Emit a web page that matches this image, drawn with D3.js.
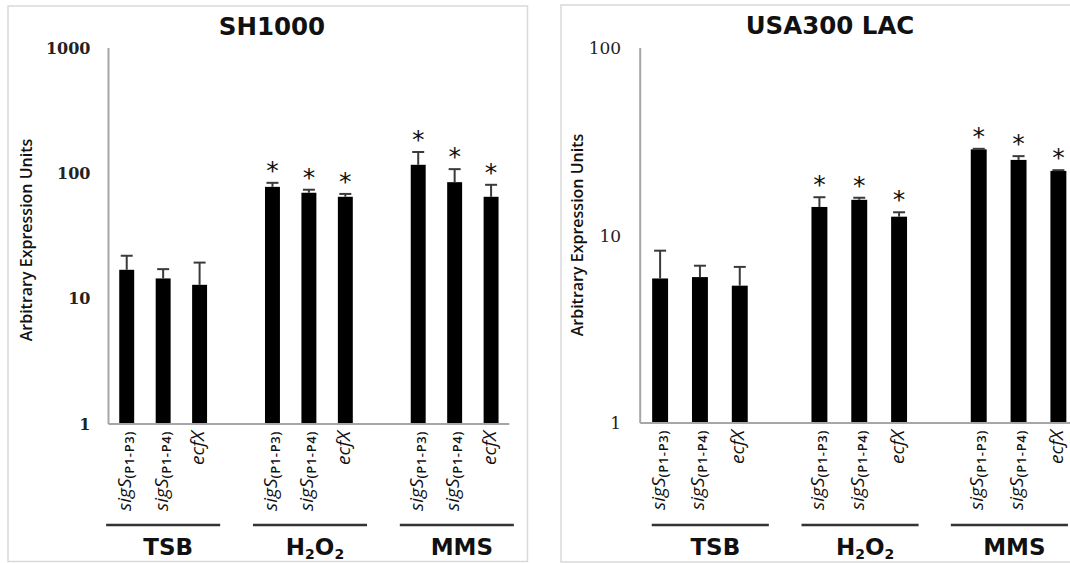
<!DOCTYPE html>
<html>
<head>
<meta charset="utf-8">
<script src="https://cdn.jsdelivr.net/npm/d3@7"></script>
<style>
  body { margin: 0; background: #fff; }
  svg { display: block; }
</style>
</head>
<body>
<script>
// gene targets and growth conditions
var geneNames = ["sigS", "sigS", "ecfX"];
var geneSubs = ["(P1-P3)", "(P1-P4)", ""];
var conditions = ["TSB", "H2O2", "MMS"];

// SH1000 expression (mean, upper error, significance)
var sh1000Mean = [17, 14.5, 12.9, 78, 70, 65, 117, 85, 65];
var sh1000Err = [5, 2.7, 6.5, 6, 4, 3.5, 31, 23, 16];
var sh1000Sig = [0, 0, 0, 1, 1, 1, 1, 1, 1];
var sh1000Ticks = [1, 10, 100, 1000];

// USA300 LAC expression
var usaMean = [5.9, 6.0, 5.4, 14.2, 15.5, 12.6, 28.8, 25.3, 22.1];
var usaErr = [2.4, 0.9, 1.4, 1.8, 0.4, 0.7, 0.2, 1.2, 0.2];
var usaSig = [0, 0, 0, 1, 1, 1, 1, 1, 1];
var usaTicks = [1, 10, 100];

var w = 1070;
var h = 563;

var svg = d3.select("body")
            .append("svg")
            .attr("width", w)
            .attr("height", h);

var panels = [
  {title: "SH1000", mean: sh1000Mean, err: sh1000Err, sig: sh1000Sig, ticks: sh1000Ticks,
   box: {x: 8, y: 6, w: 519.5, h: 555.5}, x0: 108.5, x1: 509.3, top: 48, bottom: 424,
   pad: 0.59, titleX: 272, titleY: 35, yTitleX: 32, yTitleY: 240,
   tickFont: {family: "DejaVu Serif", size: 16, weight: "bold"}, tickGap: 18,
   bracketSlots: [1.5, 5.53, 9.56], bracketHalf: 1.565},
  {title: "USA300 LAC", mean: usaMean, err: usaErr, sig: usaSig, ticks: usaTicks,
   box: {x: 561, y: 5, w: 530, h: 557}, x0: 640.2, x1: 1078.3, top: 48, bottom: 423,
   pad: 0.6, titleX: 830, titleY: 34, yTitleX: 583, yTitleY: 235,
   tickFont: {family: "DejaVu Serif", size: 17, weight: "normal"}, tickGap: 19,
   bracketSlots: [1.76, 5.52, 9.27], bracketHalf: 1.47}
];

panels.forEach(drawPanel);

function drawPanel(p) {
  var g = svg.append("g");

  // panel frame
  g.append("rect")
   .attr("x", p.box.x)
   .attr("y", p.box.y)
   .attr("width", p.box.w)
   .attr("height", p.box.h)
   .attr("fill", "#fff")
   .attr("stroke", "#d9d9d9")
   .attr("stroke-width", 1.5);

  // 11 slots: three bars per condition with an empty slot in between
  var xScale = d3.scaleBand()
                 .domain(d3.range(11))
                 .range([p.x0, p.x1])
                 .paddingInner(p.pad)
                 .paddingOuter(p.pad / 2);
  var step = xScale.step();

  var yScale = d3.scaleLog()
                 .domain([p.ticks[0], p.ticks[p.ticks.length - 1]])
                 .range([p.bottom, p.top]);

  var rows = p.mean.map(function(m, i) {
    var c = Math.floor(i / 3), k = i % 3;
    return {mean: m, err: p.err[i], sig: p.sig[i], slot: c * 4 + k, gene: k};
  });

  function cx(d) { return xScale(d.slot) + xScale.bandwidth() / 2; }

  // bars
  g.selectAll(".bar")
   .data(rows)
   .enter()
   .append("rect")
   .attr("class", "bar")
   .attr("x", function(d) { return xScale(d.slot); })
   .attr("y", function(d) { return yScale(d.mean); })
   .attr("width", xScale.bandwidth())
   .attr("height", function(d) { return yScale(p.ticks[0]) - yScale(d.mean); })
   .attr("fill", "#000");

  // error bars (upper only)
  var eb = g.selectAll(".err")
            .data(rows)
            .enter()
            .append("g")
            .attr("class", "err")
            .attr("stroke", "#3a3a3a")
            .attr("stroke-width", 2);
  eb.append("line")
    .attr("x1", cx).attr("x2", cx)
    .attr("y1", function(d) { return yScale(d.mean); })
    .attr("y2", function(d) { return yScale(d.mean + d.err); });
  eb.append("line")
    .attr("x1", function(d) { return cx(d) - 6; })
    .attr("x2", function(d) { return cx(d) + 6; })
    .attr("y1", function(d) { return yScale(d.mean + d.err); })
    .attr("y2", function(d) { return yScale(d.mean + d.err); });

  // significance stars
  g.selectAll(".star")
   .data(rows.filter(function(d) { return d.sig; }))
   .enter()
   .append("text")
   .attr("class", "star")
   .attr("x", cx)
   .attr("y", function(d) { return yScale(d.mean + d.err) - 4; })
   .attr("text-anchor", "middle")
   .style("font-family", "DejaVu Sans")
   .style("font-size", "25px")
   .attr("fill", "#111")
   .text("*");

  // axes lines
  g.append("line")
   .attr("x1", p.x0).attr("x2", p.x0)
   .attr("y1", p.top).attr("y2", p.bottom)
   .attr("stroke", "#a6a6a6").attr("stroke-width", 2);
  g.append("line")
   .attr("x1", p.x0).attr("x2", p.x1)
   .attr("y1", p.bottom).attr("y2", p.bottom)
   .attr("stroke", "#a6a6a6").attr("stroke-width", 2);

  // y tick labels
  g.selectAll(".tick")
   .data(p.ticks)
   .enter()
   .append("text")
   .attr("class", "tick")
   .attr("x", p.x0 - p.tickGap)
   .attr("y", function(d) { return yScale(d); })
   .attr("dy", "0.36em")
   .attr("text-anchor", "end")
   .style("font-family", p.tickFont.family)
   .style("font-size", p.tickFont.size + "px")
   .style("font-weight", p.tickFont.weight)
   .attr("fill", "#222")
   .text(function(d) { return d; });

  // y axis title
  g.append("text")
   .attr("transform", "translate(" + p.yTitleX + "," + p.yTitleY + ") rotate(-90)")
   .attr("text-anchor", "middle")
   .style("font-family", "Open Sans")
   .style("font-size", "16px")
   .style("font-weight", 600)
   .attr("fill", "#111")
   .text("Arbitrary Expression Units");

  // chart title
  g.append("text")
   .attr("x", p.titleX)
   .attr("y", p.titleY)
   .attr("text-anchor", "middle")
   .style("font-family", "DejaVu Sans")
   .style("font-size", "24.5px")
   .style("font-weight", "bold")
   .attr("fill", "#111")
   .text(p.title);

  // rotated gene labels
  var lab = g.selectAll(".xlab")
             .data(rows)
             .enter()
             .append("text")
             .attr("class", "xlab")
             .attr("transform", function(d) {
               return "translate(" + (cx(d) + 4.5) + "," + (p.bottom + 7) + ") rotate(-90)";
             })
             .attr("text-anchor", "end")
             .style("font-family", "Open Sans")
             .attr("fill", "#111");
  lab.append("tspan")
     .style("font-size", "19px")
     .style("font-style", "italic")
     .text(function(d) { return geneNames[d.gene]; });
  lab.append("tspan")
     .attr("dy", 3)
     .style("font-size", "13px")
     .style("font-weight", 600)
     .style("letter-spacing", "0.6px")
     .text(function(d) { return geneSubs[d.gene]; });

  // condition brackets and labels
  conditions.forEach(function(c, i) {
    var mid = p.x0 + p.bracketSlots[i] * step;
    g.append("line")
     .attr("x1", mid - p.bracketHalf * step)
     .attr("x2", mid + p.bracketHalf * step)
     .attr("y1", 525).attr("y2", 525)
     .attr("stroke", "#333")
     .attr("stroke-width", 2.6);

    var t = g.append("text")
             .attr("x", mid + 5)
             .attr("y", 555)
             .attr("text-anchor", "middle")
             .style("font-family", "DejaVu Sans")
             .style("font-size", "23px")
             .style("font-weight", "bold")
             .attr("fill", "#111");
    if (c === "H2O2") {
      t.append("tspan").text("H");
      t.append("tspan").attr("dy", 3.5).style("font-size", "14px").text("2");
      t.append("tspan").attr("dy", -3.5).text("O");
      t.append("tspan").attr("dy", 3.5).style("font-size", "14px").text("2");
    } else {
      t.text(c);
    }
  });
}
</script>
</body>
</html>
